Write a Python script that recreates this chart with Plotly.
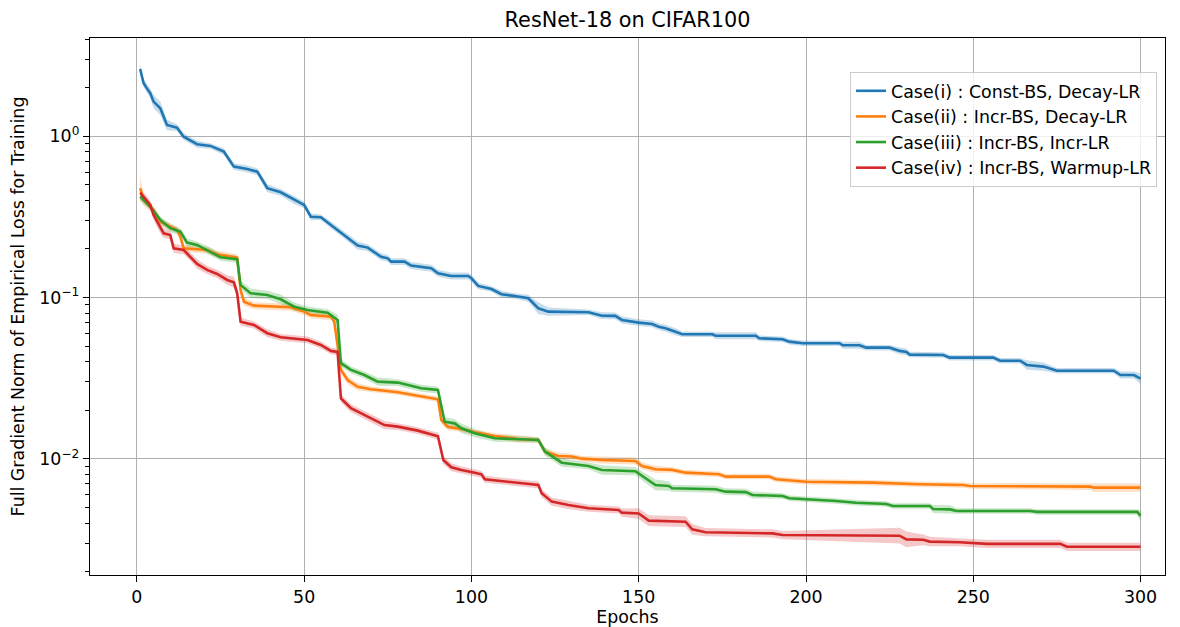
import plotly.graph_objects as go

# ---------------- data ----------------
blue_ep = [1, 2, 3, 4, 5, 7, 9, 12, 14, 18, 22, 26, 29, 33, 36, 39, 43, 47, 50, 52, 55, 58, 62, 66,
           69, 73, 75, 76, 80, 82, 88, 90, 94, 99, 100, 102, 106, 109, 113, 117, 120, 123, 135, 139,
           143, 145, 150, 154, 156, 158, 161, 163, 172, 173, 185, 186, 193, 195, 199, 210, 211, 216,
           218, 225, 228, 230, 231, 241, 243, 256, 258, 264, 266, 271, 275, 292, 294, 298, 300]
blue_val = [2.61, 2.14, 1.98, 1.85, 1.64, 1.49, 1.175, 1.13, 0.994, 0.892, 0.871, 0.803, 0.648, 0.627,
            0.603, 0.476, 0.449, 0.403, 0.375, 0.317, 0.315, 0.282, 0.244, 0.210, 0.204, 0.179, 0.175,
            0.167, 0.167, 0.158, 0.152, 0.1415, 0.136, 0.136, 0.1317, 0.118, 0.113, 0.1048, 0.1023,
            0.0990, 0.0858, 0.0818, 0.0811, 0.0772, 0.0770, 0.0726, 0.0699, 0.0686, 0.0660, 0.0645,
            0.0614, 0.0592, 0.0592, 0.0580, 0.0580, 0.0559, 0.0551, 0.0533, 0.0521, 0.0521, 0.0506,
            0.0506, 0.0489, 0.0489, 0.0467, 0.0460, 0.0443, 0.0440, 0.0424, 0.0424, 0.0406, 0.0406,
            0.0382, 0.0373, 0.0352, 0.0352, 0.0331, 0.0331, 0.0314]
blue_err = [0.08, 0.06, 0.06, 0.07, 0.10, 0.10, 0.08, 0.05, 0.05, 0.05, 0.04, 0.05, 0.05, 0.05,
            0.05, 0.06, 0.05, 0.06, 0.05, 0.05, 0.04, 0.05, 0.05, 0.06, 0.05, 0.05, 0.05,
            0.05, 0.05, 0.05, 0.05, 0.05, 0.05, 0.05, 0.05, 0.05, 0.04, 0.05, 0.04,
            0.05, 0.09, 0.06, 0.04, 0.05, 0.05, 0.05, 0.05, 0.05, 0.05, 0.05,
            0.05, 0.04, 0.04, 0.05, 0.05, 0.04, 0.04, 0.04, 0.04, 0.04, 0.05,
            0.05, 0.04, 0.04, 0.05, 0.05, 0.04, 0.04, 0.04, 0.04, 0.04, 0.04,
            0.07, 0.06, 0.04, 0.04, 0.05, 0.05, 0.08]

orange_ep = [1, 2, 5, 7, 12, 13, 14, 21, 24, 30, 31, 32, 35, 46, 50, 52, 58, 59, 61, 63, 66, 70, 78, 85,
             90, 91, 93, 97, 101, 107, 114, 120, 122, 126, 130, 133, 139, 149, 151, 155, 160, 164, 174,
             176, 189, 191, 200, 220, 234, 247, 249, 285, 286, 300]
orange_val = [0.476, 0.403, 0.349, 0.295, 0.2625, 0.2385, 0.202, 0.197, 0.1855, 0.1768, 0.1115, 0.0943,
              0.0891, 0.0871, 0.0818, 0.0780, 0.0761, 0.0709, 0.0356, 0.0308, 0.0280, 0.0270, 0.0259,
              0.0243, 0.0234, 0.0174, 0.01577, 0.01533, 0.01462, 0.01387, 0.01328, 0.01310, 0.01108,
              0.01042, 0.01035, 0.01003, 0.00984, 0.00970, 0.00904, 0.00862, 0.00854, 0.00821, 0.00802,
              0.00776, 0.00776, 0.00747, 0.00722, 0.00712, 0.00696, 0.00689, 0.00679, 0.00673, 0.00663,
              0.00663]
orange_err = [0.20, 0.08, 0.06, 0.06, 0.05, 0.05, 0.05, 0.05, 0.05, 0.05, 0.05, 0.06,
              0.05, 0.05, 0.05, 0.05, 0.05, 0.05, 0.06, 0.06, 0.05, 0.04, 0.04,
              0.04, 0.04, 0.05, 0.05, 0.04, 0.04, 0.04, 0.05, 0.04, 0.05,
              0.05, 0.04, 0.04, 0.05, 0.05, 0.05, 0.05, 0.04, 0.04, 0.04,
              0.04, 0.04, 0.04, 0.04, 0.04, 0.04, 0.04, 0.04, 0.05, 0.06,
              0.06]

green_ep = [1, 4, 7, 10, 13, 15, 18, 22, 25, 30, 31, 34, 39, 43, 47, 51, 57, 60, 61, 64, 68, 72, 78, 85,
            90, 92, 95, 97, 101, 107, 120, 122, 125, 127, 135, 139, 149, 152, 155, 159, 160, 173, 176,
            182, 184, 193, 195, 209, 215, 224, 226, 237, 238, 243, 245, 267, 269, 299, 300]
green_val = [0.422, 0.366, 0.303, 0.269, 0.256, 0.219, 0.212, 0.1926, 0.1778, 0.1727, 0.1197, 0.1063,
             0.1038, 0.0976, 0.0878, 0.0838, 0.0806, 0.0726, 0.0392, 0.0356, 0.0331, 0.0301, 0.0297,
             0.0274, 0.0267, 0.0170, 0.0166, 0.01548, 0.01441, 0.01341, 0.01310, 0.01108, 0.01009,
             0.00947, 0.00904, 0.00853, 0.00838, 0.00758, 0.00689, 0.00679, 0.00657, 0.00648, 0.00626,
             0.00622, 0.00597, 0.00589, 0.00570, 0.00548, 0.00535, 0.00525, 0.00510, 0.00510, 0.00489,
             0.00486, 0.00475, 0.00475, 0.00469, 0.00469, 0.00443]
green_err = [0.06, 0.05, 0.05, 0.06, 0.05, 0.06, 0.05, 0.06, 0.05, 0.05, 0.06, 0.07,
             0.06, 0.07, 0.06, 0.05, 0.05, 0.08, 0.06, 0.05, 0.05, 0.06, 0.05,
             0.05, 0.05, 0.07, 0.06, 0.07, 0.06, 0.05, 0.04, 0.06, 0.06,
             0.06, 0.05, 0.07, 0.06, 0.07, 0.08, 0.07, 0.05, 0.05, 0.05,
             0.05, 0.05, 0.04, 0.04, 0.04, 0.04, 0.04, 0.04, 0.04, 0.06,
             0.06, 0.04, 0.04, 0.04, 0.04, 0.08]

red_ep = [1, 4, 5, 7, 8, 10, 11, 14, 16, 18, 21, 24, 27, 29, 30, 31, 35, 39, 43, 51, 55, 58, 60, 61, 64,
          68, 74, 78, 84, 90, 91.6, 94, 97, 101, 103, 104, 111, 120, 121, 124, 129, 135, 144, 145, 150,
          153, 164, 166, 170, 190, 193, 228, 230, 235, 237, 246, 254, 276, 278, 300]
red_val = [0.447, 0.375, 0.325, 0.269, 0.250, 0.244, 0.202, 0.197, 0.179, 0.1615, 0.1483, 0.1401,
           0.1285, 0.1244, 0.1063, 0.0709, 0.0676, 0.0601, 0.0567, 0.0546, 0.0508, 0.0467, 0.0460,
           0.0237, 0.0206, 0.0187, 0.0162, 0.01584, 0.01496, 0.01381, 0.00984, 0.00887, 0.00853,
           0.00821, 0.00802, 0.00747, 0.00722, 0.00689, 0.00612, 0.00543, 0.00518, 0.00494, 0.00482,
           0.00464, 0.00458, 0.00414, 0.00408, 0.00366, 0.00351, 0.00345, 0.00337, 0.00334, 0.00317,
           0.00315, 0.00307, 0.00304, 0.00297, 0.00297, 0.00285, 0.00285]
red_err = [0.07, 0.06, 0.07, 0.08, 0.07, 0.06, 0.07, 0.06, 0.06, 0.07, 0.06, 0.06,
           0.07, 0.08, 0.08, 0.06, 0.05, 0.06, 0.05, 0.05, 0.05, 0.05, 0.05,
           0.06, 0.06, 0.06, 0.06, 0.05, 0.05, 0.05, 0.06, 0.06, 0.05,
           0.05, 0.05, 0.05, 0.05, 0.05, 0.06, 0.06, 0.06, 0.05, 0.05,
           0.06, 0.08, 0.08, 0.08, 0.08, 0.06, 0.06, 0.06, 0.12, 0.12,
           0.08, 0.07, 0.06, 0.06, 0.06, 0.06, 0.06]

series_names = ["Case(i) : Const-BS, Decay-LR", "Case(ii) : Incr-BS, Decay-LR",
                "Case(iii) : Incr-BS, Incr-LR", "Case(iv) : Incr-BS, Warmup-LR"]
colors = ["#1f77b4", "#ff7f0e", "#2ca02c", "#d62728"]
band_colors = ["rgba(31,119,180,0.25)", "rgba(255,127,14,0.25)",
               "rgba(44,160,44,0.25)", "rgba(214,39,40,0.25)"]

x_ticks = [0, 50, 100, 150, 200, 250, 300]
y_ticks = [0.01, 0.1, 1]
y_ticktext = ["10<sup>−2</sup>", "10<sup>−1</sup>", "10<sup>0</sup>"]
y_minor = [m * 10 ** k for k in (-3, -2, -1, 0) for m in range(2, 10)]

# ---------------- figure ----------------
fig = go.Figure()
data = [(blue_ep, blue_val, blue_err), (orange_ep, orange_val, orange_err),
        (green_ep, green_val, green_err), (red_ep, red_val, red_err)]

for i, (ep, val, err) in enumerate(data):
    hi = [v * (1 + e) for v, e in zip(val, err)]
    lo = [v / (1 + e) for v, e in zip(val, err)]
    fig.add_trace(go.Scatter(x=ep, y=hi, mode="lines", line=dict(width=0), showlegend=False,
                             hoverinfo="skip", legendgroup=f"g{i}"))
    fig.add_trace(go.Scatter(x=ep, y=lo, mode="lines", line=dict(width=0), fill="tonexty",
                             fillcolor=band_colors[i], showlegend=False, hoverinfo="skip",
                             legendgroup=f"g{i}"))

for i, (ep, val, err) in enumerate(data):
    fig.add_trace(go.Scatter(x=ep, y=val, mode="lines", name=series_names[i],
                             line=dict(color=colors[i], width=2.6), legendgroup=f"g{i}"))

font_family = "DejaVu Sans"
fs = 17.4
fig.update_layout(
    width=1180, height=627,
    margin=dict(l=90, r=15, t=38, b=52),
    paper_bgcolor="white", plot_bgcolor="white",
    font=dict(family=font_family, size=fs, color="black"),
    title=dict(text="ResNet-18 on CIFAR100", x=(90 + 1165) / 2 / 1180, xanchor="center",
               y=1 - 20 / 627, yanchor="middle", font=dict(size=20.8, color="black")),
    legend=dict(x=0.9926, xanchor="right", y=0.9367, yanchor="top",
                bgcolor="rgba(255,255,255,0.8)", bordercolor="#cccccc", borderwidth=1,
                font=dict(size=fs), tracegroupgap=1, traceorder="normal"),
    showlegend=True,
)
fig.update_xaxes(
    range=[-14.0, 307.3], tickvals=x_ticks, ticks="outside", ticklen=6, tickwidth=1.3,
    tickcolor="black", showline=True, linecolor="black", linewidth=1.3, mirror=True,
    showgrid=True, gridcolor="#b0b0b0", gridwidth=1.3, zeroline=False, automargin=False,
    title=dict(text="Epochs", font=dict(size=fs), standoff=6), tickfont=dict(size=fs),
)
fig.update_yaxes(
    type="log", range=[-2.72, 0.609], tickvals=y_ticks, ticktext=y_ticktext,
    ticks="outside", ticklen=6, tickwidth=1.3, tickcolor="black",
    showline=True, linecolor="black", linewidth=1.3, mirror=True,
    showgrid=True, gridcolor="#b0b0b0", gridwidth=1.3, zeroline=False, automargin=False,
    minor=dict(tickvals=y_minor, ticks="outside", ticklen=3.5, tickwidth=1, tickcolor="black",
               showgrid=False),
    title=dict(text="Full Gradient Norm of Empirical Loss for Training", font=dict(size=fs),
               standoff=10),
    tickfont=dict(size=fs),
)

fig.write_html("out.html")
